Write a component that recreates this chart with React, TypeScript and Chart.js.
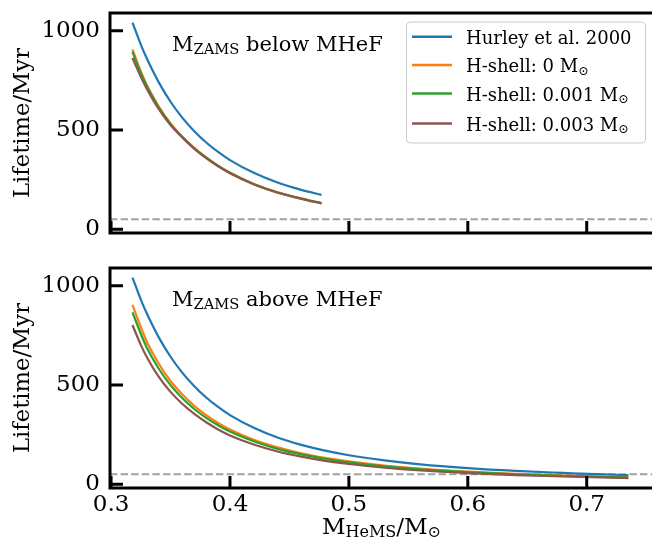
import React, { useEffect, useRef } from 'react';
import { Chart, registerables } from 'chart.js';

Chart.register(...registerables);

// ---------- data ----------
const massTop = [0.318, 0.325, 0.33, 0.34, 0.35, 0.36, 0.37, 0.38, 0.39, 0.40, 0.42, 0.44, 0.46, 0.477];
const hurleyTop = [1041, 930, 861, 741, 642, 561, 494, 437, 389, 348, 284, 235, 198, 173];
const shell0Top = [906, 795, 728, 619, 533, 466, 410, 362, 320, 285, 228, 186, 155, 132];
const shell001Top = [893, 787, 721, 614, 530, 464, 408, 360, 319, 284, 227, 185, 154, 131];
const shell003Top = [862, 768, 708, 606, 525, 461, 405, 358, 317, 282, 226, 184, 153, 130];

const massBottom = [0.318, 0.325, 0.33, 0.34, 0.35, 0.36, 0.37, 0.38, 0.39, 0.40, 0.42, 0.44, 0.46, 0.48, 0.50, 0.53, 0.56, 0.60, 0.64, 0.68, 0.72, 0.735];
const hurleyBottom = [1041, 930, 861, 741, 642, 561, 494, 437, 389, 348, 284, 235, 198, 169, 146, 120, 100, 81, 67, 57, 48, 46];
const shell0Bottom = [903, 791, 719, 608, 520, 452, 395, 348, 309, 276, 224, 186, 156, 133, 115, 94, 79, 64, 52, 44, 37, 36];
const shell001Bottom = [866, 758, 689, 583, 499, 433, 379, 334, 297, 265, 216, 178, 150, 128, 110, 90, 75, 61, 50, 42, 36, 34];
const shell003Bottom = [802, 702, 641, 542, 465, 404, 354, 312, 276, 246, 200, 165, 139, 118, 102, 83, 69, 56, 46, 39, 33, 31];

const xTickValues = [0.3, 0.4, 0.5, 0.6, 0.7];
const yTickValues = [0, 500, 1000];
const xRange = [0.2991, 0.7549];
const yRange = [-19, 1089];
const referenceLifetime = 50;

const seriesNames = ['Hurley et al. 2000', 'H-shell: 0 M', 'H-shell: 0.001 M', 'H-shell: 0.003 M'];
const seriesColors = ['#1f77b4', '#ff7f0e', '#2ca02c', '#8c564b'];

const FONT = '"DejaVu Serif", serif';

type Part = { t: string; s: number; dy: number };

function richWidth(ctx: CanvasRenderingContext2D, parts: Part[]) {
  let w = 0;
  for (const p of parts) {
    ctx.font = `${p.s}px ${FONT}`;
    w += ctx.measureText(p.t).width;
  }
  return w;
}

function drawRich(ctx: CanvasRenderingContext2D, x: number, y: number, parts: Part[], align: 'left' | 'center' = 'left') {
  let cx = align === 'center' ? x - richWidth(ctx, parts) / 2 : x;
  ctx.textAlign = 'left';
  ctx.textBaseline = 'alphabetic';
  ctx.fillStyle = '#000';
  for (const p of parts) {
    ctx.font = `${p.s}px ${FONT}`;
    ctx.fillText(p.t, cx, y + p.dy);
    cx += ctx.measureText(p.t).width;
  }
}

const framePlugin = {
  id: 'frame',
  afterDraw(chart: any) {
    const { ctx, chartArea: a, scales } = chart;
    const x = scales.x;
    const y = scales.y;
    ctx.save();
    ctx.strokeStyle = '#000';
    ctx.lineWidth = 3;
    ctx.lineJoin = 'miter';
    ctx.beginPath();
    ctx.moveTo(a.left, a.bottom + 1.5);
    ctx.lineTo(a.left, a.top);
    ctx.lineTo(a.right + 3, a.top);
    ctx.moveTo(a.left - 1.5, a.bottom);
    ctx.lineTo(a.right + 3, a.bottom);
    ctx.stroke();
    ctx.beginPath();
    for (const t of y.ticks) {
      const py = y.getPixelForValue(t.value);
      ctx.moveTo(a.left, py);
      ctx.lineTo(a.left + 13, py);
    }
    for (const t of x.ticks) {
      const px = x.getPixelForValue(t.value);
      ctx.moveTo(px, a.bottom);
      ctx.lineTo(px, a.bottom - 12);
    }
    ctx.stroke();

    const opts = chart.options.plugins.frame || {};
    if (opts.annotation) {
      drawRich(ctx, a.left + 62, a.top + 37.5, [
        { t: 'M', s: 21, dy: 0 },
        { t: 'ZAMS', s: 14.7, dy: 3 },
        { t: ' ' + opts.annotation, s: 21, dy: 0 },
      ]);
    }
    if (opts.legend) {
      const lx = 406, ly = 21.5, lw = 239, lh = 121;
      ctx.fillStyle = 'rgba(255,255,255,0.8)';
      ctx.strokeStyle = '#cccccc';
      ctx.lineWidth = 1;
      ctx.beginPath();
      ctx.roundRect(lx + 0.5, ly + 0.5, lw, lh, 4);
      ctx.fill();
      ctx.stroke();
      const rows = [36.7, 65, 93.5, 123.5];
      seriesNames.forEach((name, i) => {
        ctx.strokeStyle = seriesColors[i];
        ctx.lineWidth = 2.5;
        ctx.beginPath();
        ctx.moveTo(412, rows[i]);
        ctx.lineTo(452, rows[i]);
        ctx.stroke();
        const parts: Part[] = [{ t: name, s: 18, dy: 0 }];
        if (i > 0) parts.push({ t: '\u2299', s: 12.6, dy: 2.7 });
        drawRich(ctx, 466, rows[i] + 7, parts);
      });
    }
    if (opts.xTitle) {
      drawRich(ctx, (a.left + a.right) / 2 + 0.5, a.bottom + 46, [
        { t: 'M', s: 23, dy: 0 },
        { t: 'HeMS', s: 16, dy: 3 },
        { t: '/M', s: 23, dy: 0 },
        { t: '\u2299', s: 16, dy: 3 },
      ], 'center');
    }
    ctx.restore();
  },
};

function buildConfig(
  mass: number[], hurley: number[], s0: number[], s1: number[], s3: number[],
  o: { padTop: number; xAxisHeight: number; showXLabels: boolean; annotation: string; legend: boolean; xTitle: boolean }
): any {
  const pts = (ys: number[]) => mass.map((m, i) => ({ x: m, y: ys[i] }));
  const common = { pointRadius: 0, borderWidth: 2.2, fill: false, cubicInterpolationMode: 'monotone' };
  const zeroPad = (s: any) => { s.paddingLeft = 0; s.paddingRight = 0; s.paddingTop = 0; s.paddingBottom = 0; };
  return {
    type: 'line',
    data: {
      datasets: [
        { ...common, label: seriesNames[3], data: pts(s3), borderColor: seriesColors[3] },
        { ...common, label: seriesNames[2], data: pts(s1), borderColor: seriesColors[2] },
        { ...common, label: seriesNames[1], data: pts(s0), borderColor: seriesColors[1] },
        { ...common, label: seriesNames[0], data: pts(hurley), borderColor: seriesColors[0] },
        {
          label: 'reference', data: xRange.map((x) => ({ x, y: referenceLifetime })),
          borderColor: '#a2a2a2', borderWidth: 2, borderDash: [7.4, 3.2], pointRadius: 0, fill: false,
        },
      ],
    },
    options: {
      animation: false,
      responsive: false,
      events: [],
      layout: { padding: { top: o.padTop, left: 0, right: 0, bottom: 0 } },
      plugins: {
        legend: { display: false },
        tooltip: { enabled: false },
        frame: { annotation: o.annotation, legend: o.legend, xTitle: o.xTitle },
      },
      scales: {
        x: {
          type: 'linear',
          min: xRange[0],
          max: xRange[1],
          afterBuildTicks: (s: any) => { s.ticks = xTickValues.map((v) => ({ value: v })); },
          afterFit: (s: any) => { s.height = o.xAxisHeight; zeroPad(s); },
          grid: { display: false, drawTicks: false },
          border: { display: false },
          ticks: {
            display: o.showXLabels,
            padding: 3,
            color: '#000',
            autoSkip: false,
            maxRotation: 0,
            font: { size: 23, family: FONT },
            callback: (v: any) => Number(v).toFixed(1),
          },
        },
        y: {
          type: 'linear',
          min: yRange[0],
          max: yRange[1],
          afterBuildTicks: (s: any) => { s.ticks = yTickValues.map((v) => ({ value: v })); },
          afterFit: (s: any) => { s.width = 110; zeroPad(s); },
          grid: { display: false, drawTicks: false },
          border: { display: false },
          title: {
            display: true,
            text: 'Lifetime/Myr',
            color: '#000',
            font: { size: 22.7, family: FONT },
            padding: { top: 9, bottom: 0 },
          },
          ticks: {
            padding: 10,
            color: '#000',
            font: { size: 23, family: FONT },
            callback: (v: any) => String(v),
          },
        },
      },
    },
    plugins: [framePlugin],
  };
}

export default function App() {
  const topRef = useRef<HTMLCanvasElement>(null);
  const bottomRef = useRef<HTMLCanvasElement>(null);

  useEffect(() => {
    Chart.defaults.font.family = FONT;
    const c1 = new Chart(topRef.current as HTMLCanvasElement, buildConfig(
      massTop, hurleyTop, shell0Top, shell001Top, shell003Top,
      { padTop: 13, xAxisHeight: 17, showXLabels: false, annotation: 'below MHeF', legend: true, xTitle: false }
    ));
    const c2 = new Chart(bottomRef.current as HTMLCanvasElement, buildConfig(
      massBottom, hurleyBottom, shell0Bottom, shell001Bottom, shell003Bottom,
      { padTop: 18, xAxisHeight: 59, showXLabels: true, annotation: 'above MHeF', legend: false, xTitle: true }
    ));
    return () => { c1.destroy(); c2.destroy(); };
  }, []);

  return (
    <div style={{ position: 'fixed', left: 0, top: 0, width: 652, height: 547, background: '#fff', overflow: 'hidden' }}>
      <canvas ref={topRef} width={652} height={250} style={{ position: 'absolute', left: 0, top: 0, width: 652, height: 250 }} />
      <canvas ref={bottomRef} width={652} height={297} style={{ position: 'absolute', left: 0, top: 250, width: 652, height: 297 }} />
    </div>
  );
}
